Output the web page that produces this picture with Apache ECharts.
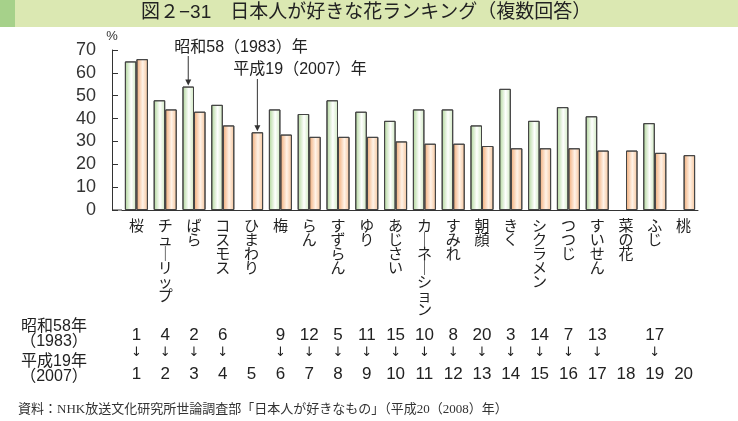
<!DOCTYPE html>
<html><head><meta charset="utf-8">
<script src="https://cdn.jsdelivr.net/npm/echarts@6/dist/echarts.min.js"></script>
<style>html,body{margin:0;padding:0;background:#fff}#c{width:738px;height:421px}</style>
</head><body><div id="c"></div>
<script>
const categories = ['桜','チューリップ','ばら','コスモス','ひまわり','梅','らん','すずらん','ゆり','あじさい','カーネーション','すみれ','朝顔','きく','シクラメン','つつじ','すいせん','菜の花','ふじ','桃'];
const v1983 = [65,48,54,46,null,44,42,48,43,39,44,44,37,53,39,45,41,null,38,null];
const v2007 = [66,44,43,37,34,33,32,32,32,30,29,29,28,27,27,27,26,26,25,24];
const rank1983 = [1,4,2,6,null,9,12,5,11,15,10,8,20,3,14,7,13,null,17,null];
const rank2007 = [1,2,3,4,5,6,7,8,9,10,11,12,13,14,15,16,17,18,19,20];
const yTicks = [0,10,20,30,40,50,60,70];
const titleText = '図２−31　日本人が好きな花ランキング（複数回答）';
const sourceText = '資料：NHK放送文化研究所世論調査部「日本人が好きなもの」（平成20（2008）年）';

const FONT = "'Liberation Sans','Noto Sans CJK JP',sans-serif";
const CJK = "'Noto Sans CJK JP',sans-serif";
const chart = echarts.init(document.getElementById('c'));
const vert = s => s.replace(/ー/g,'｜').split('').join('\n');
const grad = (a,b,c) => new echarts.graphic.LinearGradient(0,0,1,0,[{offset:0,color:a},{offset:0.55,color:b},{offset:1,color:c}]);

const GL = 122, GR = 40, GT = 50, GB = 211;
chart.setOption({
  animation:false,
  grid:{left:GL,right:GR,top:GT,bottom:GB},
  xAxis:[{
    type:'category',data:categories,
    axisLine:{lineStyle:{color:'#333',width:1}},axisTick:{show:false},
    axisLabel:{interval:0,formatter:v=>vert(v),fontSize:15,lineHeight:14,color:'#222',margin:8,fontFamily:CJK}
  },{
    type:'category',data:categories,position:'bottom',offset:115,
    axisLine:{show:false},axisTick:{show:false},
    axisLabel:{interval:0,margin:0,
      formatter:(v,i)=>{const r=rank1983[i];return '{a|'+(r==null?' ':r)+'}\n{b|'+(r==null?' ':'↓')+'}\n{c|'+rank2007[i]+'}';},
      rich:{
        a:{fontSize:17,lineHeight:20,color:'#222',fontFamily:FONT,align:'center'},
        b:{fontSize:13,lineHeight:16,color:'#222',fontFamily:"'DejaVu Sans',sans-serif",align:'center'},
        c:{fontSize:17,lineHeight:26,color:'#222',fontFamily:FONT,align:'center'}
      }}
  }],
  yAxis:{
    type:'value',min:yTicks[0],max:yTicks[yTicks.length-1],interval:10,offset:10,
    name:'%',nameGap:7,nameTextStyle:{fontSize:13,color:'#333',fontFamily:FONT,align:'center'},
    axisLine:{show:true,lineStyle:{color:'#333'}},
    axisTick:{show:true,inside:true,length:6,lineStyle:{color:'#333'}},
    splitLine:{show:false},
    axisLabel:{fontSize:18,color:'#333',margin:16,fontFamily:FONT}
  },
  series:[
    {name:'1983',type:'bar',data:v1983,barGap:'0%',barCategoryGap:'20%',
     itemStyle:{color:grad('#aed597','#ffffff','#cde8bd'),borderColor:'#444',borderWidth:1}},
    {name:'2007',type:'bar',data:v2007,barGap:'0%',barCategoryGap:'20%',
     itemStyle:{color:grad('#f0a974','#fff3e8','#f5c298'),borderColor:'#444',borderWidth:1}}
  ]
});

// annotations positioned through the axes
const band = (738-GL-GR)/categories.length;
const barW = band*0.8/2;
const i1 = 2, i2 = 4;
const ax1 = chart.convertToPixel({xAxisIndex:0}, categories[i1]) - barW/2;
const ay1 = chart.convertToPixel({yAxisIndex:0}, v1983[i1]);
const ax2 = chart.convertToPixel({xAxisIndex:0}, categories[i2]) + barW/2;
const ay2 = chart.convertToPixel({yAxisIndex:0}, v2007[i2]);
const y0 = chart.convertToPixel({yAxisIndex:0}, 0);
function arrow(x, yFrom, yTo){
  return [
    {type:'line',shape:{x1:x,y1:yFrom,x2:x,y2:yTo-5},style:{stroke:'#333',lineWidth:1}},
    {type:'polygon',shape:{points:[[x-3,yTo-7],[x+3,yTo-7],[x,yTo-1]]},style:{fill:'#333'}}
  ];
}
chart.setOption({graphic:[
  {type:'rect',left:0,top:0,shape:{width:738,height:27},style:{fill:'#dbe8b2'}},
  {type:'rect',left:0,top:0,shape:{width:15,height:27},style:{fill:'#a6d18a'}},
  {type:'text',left:141,top:3,style:{text:titleText,fontSize:19,fill:'#222',fontFamily:FONT}},
  {type:'line',shape:{x1:GL-10,y1:y0,x2:GL,y2:y0},style:{stroke:'#333',lineWidth:1}},
  {type:'text',x:ax1-14,y:48,style:{text:'昭和58（1983）年',fontSize:16,fill:'#222',fontFamily:FONT,verticalAlign:'middle'}},
  ...arrow(ax1,56,ay1),
  {type:'text',x:ax2-24,y:70,style:{text:'平成19（2007）年',fontSize:16,fill:'#222',fontFamily:FONT,verticalAlign:'middle'}},
  ...arrow(ax2,79,ay2),
  {type:'text',x:54,y:334,style:{text:'昭和58年\n（1983）',fontSize:16,lineHeight:15,fill:'#222',fontFamily:FONT,align:'center',verticalAlign:'middle'}},
  {type:'text',x:54,y:369,style:{text:'平成19年\n（2007）',fontSize:16,lineHeight:15,fill:'#222',fontFamily:FONT,align:'center',verticalAlign:'middle'}},
  {type:'text',x:18,y:410,style:{text:sourceText,fontSize:13,fill:'#333',fontFamily:"'Liberation Serif','Noto Sans CJK JP',serif",verticalAlign:'middle'}}
]});
</script></body></html>
